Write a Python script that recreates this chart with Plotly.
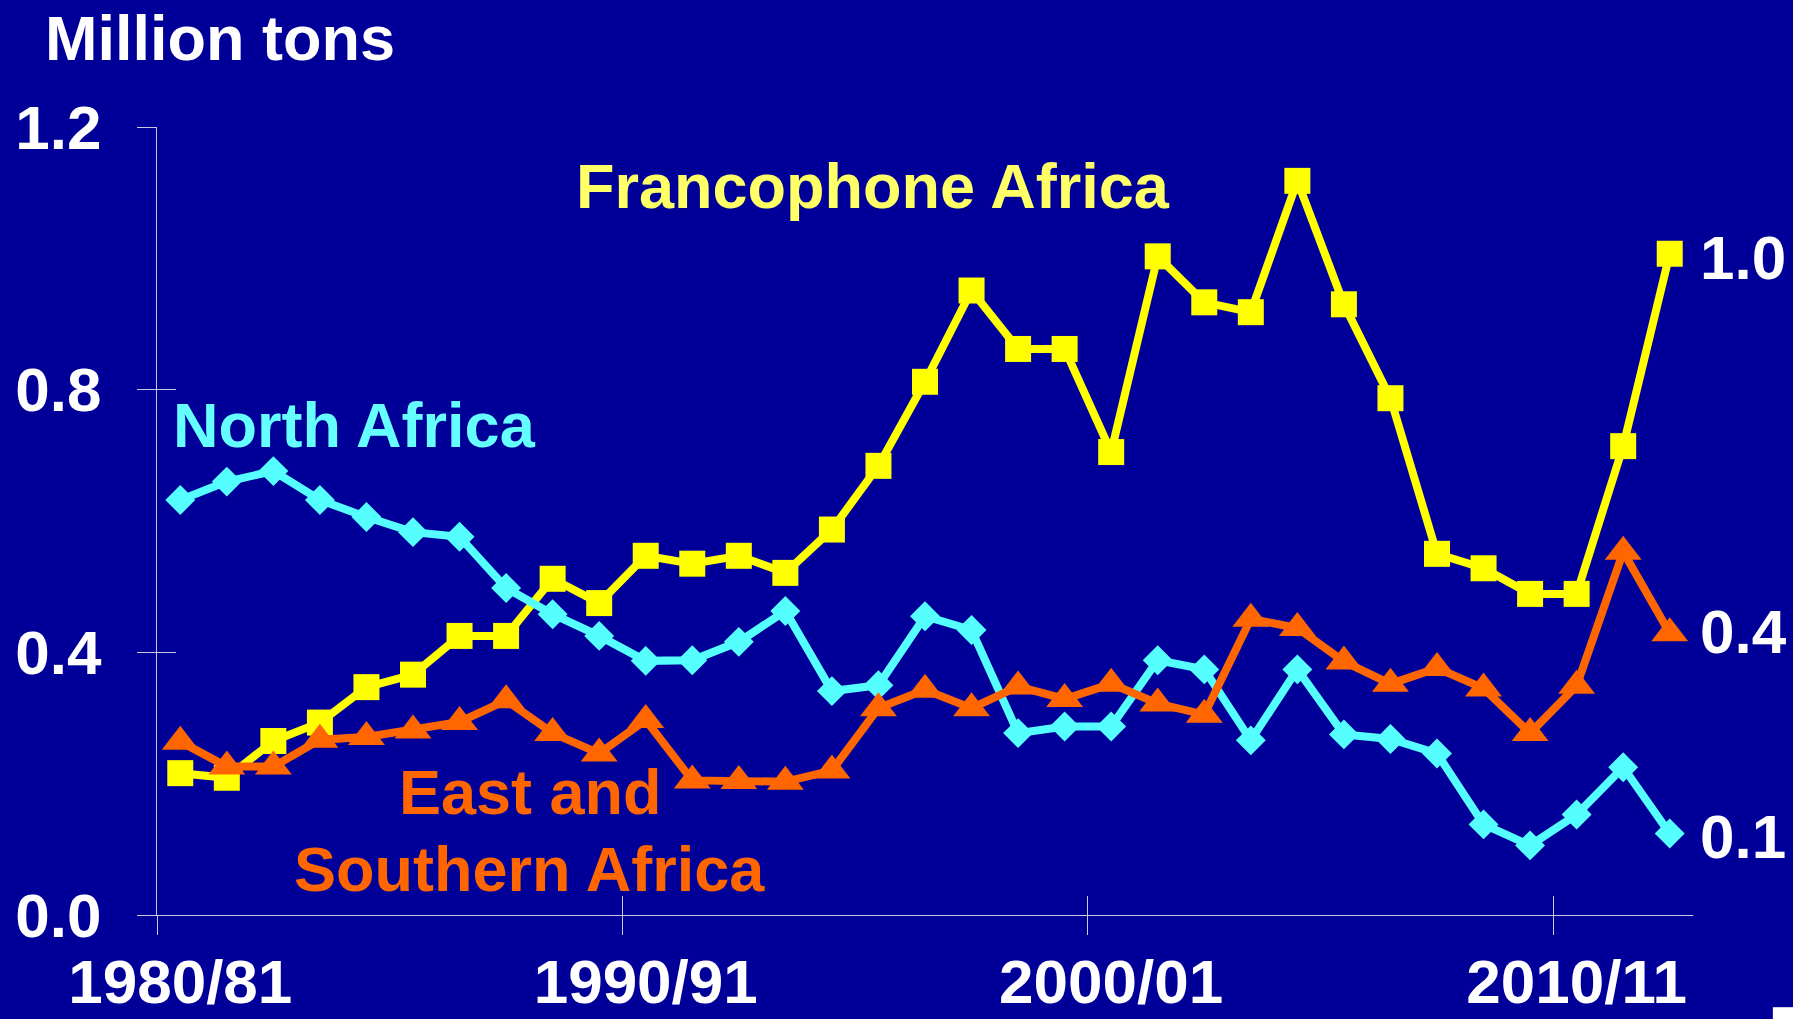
import plotly.graph_objects as go

seasons = [f"{y}/{str(y + 1)[-2:]}" for y in range(1980, 2013)]
x_idx = list(range(len(seasons)))

francophone = [0.216, 0.209, 0.265, 0.293, 0.347, 0.366, 0.425, 0.425, 0.512, 0.475,
               0.547, 0.535, 0.547, 0.521, 0.587, 0.684, 0.812, 0.951, 0.862, 0.862,
               0.705, 1.003, 0.933, 0.918, 1.118, 0.930, 0.787, 0.550, 0.528, 0.489,
               0.489, 0.714, 1.007]
north_africa = [0.632, 0.660, 0.676, 0.632, 0.606, 0.583, 0.576, 0.498, 0.458, 0.425,
                0.387, 0.388, 0.416, 0.463, 0.341, 0.350, 0.455, 0.434, 0.277, 0.287,
                0.287, 0.388, 0.374, 0.266, 0.374, 0.275, 0.268, 0.246, 0.138, 0.106,
                0.153, 0.225, 0.124]
east_south = [0.264, 0.226, 0.226, 0.267, 0.271, 0.281, 0.294, 0.327, 0.277, 0.246,
              0.297, 0.205, 0.204, 0.203, 0.220, 0.315, 0.343, 0.315, 0.348, 0.329,
              0.352, 0.322, 0.305, 0.451, 0.437, 0.386, 0.352, 0.376, 0.345, 0.277,
              0.349, 0.553, 0.429]

label_idx = [0, 10, 20, 30]
label_text = [seasons[i] for i in label_idx]
boundary_ticks = [i - 0.5 for i in label_idx]
y_ticks = [0, 0.4, 0.8, 1.2]
y_tick_text = ["0.0", "0.4", "0.8", "1.2"]
end_labels = ["1.0", "0.4", "0.1"]

BG = "#000099"
AXC = "#C8C8E0"
FONT = "Liberation Sans, Arial, sans-serif"
YELLOW = "#FFFF00"
CYAN = "#55FFFF"
ORANGE = "#FF6600"
LW = 8

fig = go.Figure()
fig.add_trace(go.Scatter(x=x_idx, y=francophone, mode="lines+markers",
                         line=dict(color=YELLOW, width=LW),
                         marker=dict(symbol="square", size=26, color=YELLOW),
                         showlegend=False, cliponaxis=False))
fig.add_trace(go.Scatter(x=x_idx, y=north_africa, mode="lines+markers",
                         line=dict(color=CYAN, width=LW),
                         marker=dict(symbol="diamond", size=23, color=CYAN),
                         showlegend=False, cliponaxis=False))
fig.add_trace(go.Scatter(x=x_idx, y=east_south, mode="lines+markers",
                         line=dict(color=ORANGE, width=LW),
                         marker=dict(symbol="triangle-up", size=32, color=ORANGE),
                         showlegend=False, cliponaxis=False))
# helper traces to activate overlay axes used for crossing tick marks
fig.add_trace(go.Scatter(x=[None], y=[None], xaxis="x2", yaxis="y", showlegend=False, hoverinfo="skip"))
fig.add_trace(go.Scatter(x=[None], y=[None], xaxis="x3", yaxis="y", showlegend=False, hoverinfo="skip"))
fig.add_trace(go.Scatter(x=[None], y=[None], xaxis="x", yaxis="y2", showlegend=False, hoverinfo="skip"))

big = dict(family=FONT, size=62, color="white", weight="bold")
common = dict(automargin=False, showgrid=False, zeroline=False)

fig.update_layout(
    width=1793, height=1019,
    paper_bgcolor=BG, plot_bgcolor=BG,
    margin=dict(l=157, r=100, t=127, b=104, autoexpand=False),
    xaxis=dict(range=[-0.5, 32.5], tickmode="array", tickvals=label_idx, ticktext=label_text,
               ticks="", showline=True, linecolor=AXC, linewidth=1.2,
               tickfont=big, ticklabelstandoff=12, **common),
    xaxis2=dict(range=[-0.5, 32.5], overlaying="x", anchor="y", tickmode="array",
                tickvals=boundary_ticks, ticks="outside", ticklen=19, tickwidth=1.2, tickcolor=AXC,
                showticklabels=False, showline=False, **common),
    xaxis3=dict(range=[-0.5, 32.5], overlaying="x", anchor="y", tickmode="array",
                tickvals=boundary_ticks, ticks="inside", ticklen=19, tickwidth=1.2, tickcolor=AXC,
                showticklabels=False, showline=False, **common),
    yaxis=dict(range=[0, 1.2], tickmode="array", tickvals=y_ticks, ticktext=y_tick_text,
               ticks="outside", ticklen=19, tickwidth=1.2, tickcolor=AXC,
               showline=True, linecolor=AXC, linewidth=1.2,
               tickfont=big, ticklabelstandoff=23, **common),
    yaxis2=dict(range=[0, 1.2], overlaying="y", anchor="x", tickmode="array", tickvals=y_ticks,
                ticks="inside", ticklen=19, tickwidth=1.2, tickcolor=AXC,
                showticklabels=False, showline=False, **common),
)

lab = dict(family=FONT, size=63, weight="bold")
annotations = [
    dict(text="Million tons", xref="paper", yref="paper", x=-0.074, y=1.113,
         xanchor="left", yanchor="middle", font=dict(lab, color="white")),
    dict(text="Francophone Africa", xref="x", yref="y", x=14.88, y=1.110,
         xanchor="center", yanchor="middle", font=dict(lab, color="#FFFF66")),
    dict(text="North Africa", xref="x", yref="y", x=-0.2, y=0.746,
         xanchor="left", yanchor="middle", font=dict(lab, color="#66FFFF")),
    dict(text="East and", xref="x", yref="y", x=7.52, y=0.187,
         xanchor="center", yanchor="middle", font=dict(lab, color=ORANGE)),
    dict(text="Southern Africa", xref="x", yref="y", x=7.50, y=0.070,
         xanchor="center", yanchor="middle", font=dict(lab, color=ORANGE)),
]
end_vals = [francophone[-1] - 0.005, east_south[-1] + 0.003, north_africa[-1] - 0.005]
for val, txt in zip(end_vals, end_labels):
    annotations.append(dict(text=txt, xref="paper", yref="y", x=1.003, y=val,
                            xanchor="left", yanchor="middle", font=dict(big)))
for a in annotations:
    a["showarrow"] = False
fig.update_layout(annotations=annotations)

# small white block in the bottom-right corner of the original slide
fig.add_shape(type="rect", xref="paper", yref="paper", x0=1.052, x1=1.066, y0=-0.117, y1=-0.133,
              fillcolor="white", line=dict(width=0))

fig.write_html("out.html", config={"displayModeBar": False},
               post_script="document.body.style.margin='0';document.body.style.overflow='hidden';")
